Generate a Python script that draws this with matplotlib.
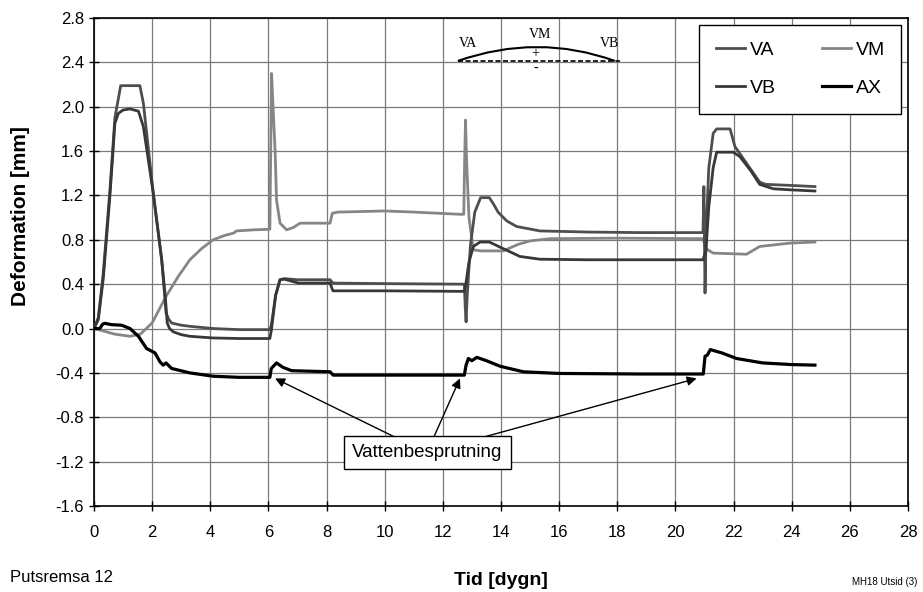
import matplotlib
matplotlib.use("Agg")
import matplotlib.pyplot as plt
from matplotlib.path import Path
from matplotlib.patches import PathPatch

plt.rcParams['font.family'] = ['Liberation Sans', 'DejaVu Sans']
plt.rcParams['axes.unicode_minus'] = False

VA_COLOR = '#4e4e4e'
VM_COLOR = '#868686'
VB_COLOR = '#383838'
AX_COLOR = '#000000'
GRID_COLOR = '#7a7a7a'

# time [dygn] / deformation [mm]
va_t = [0, 0.15, 0.32, 0.55, 0.72, 0.92, 1.58, 1.70, 2.04, 2.33, 2.48, 2.58, 2.67, 3.0, 3.3, 4.1,
        5.0, 6.05, 6.1, 6.25, 6.4, 6.55, 7.0, 8.12, 8.22, 10.0, 12.74, 12.77, 12.80, 12.84, 12.95,
        13.1, 13.3, 13.6, 13.75, 13.9, 14.2, 14.54, 15.34, 17.0, 18.78, 20.95, 20.98, 21.02, 21.06,
        21.15, 21.3, 21.42, 21.88, 22.05, 22.5, 22.9, 23.1, 24.0, 24.8]
va_v = [0, 0.10, 0.50, 1.25, 1.90, 2.19, 2.19, 2.03, 1.22, 0.62, 0.14, 0.08, 0.05, 0.03, 0.02, 0.0,
        -0.01, -0.01, 0.03, 0.30, 0.44, 0.45, 0.44, 0.44, 0.41, 0.405, 0.40, 0.20, 0.06, 0.30, 0.75,
        1.05, 1.18, 1.18, 1.12, 1.05, 0.97, 0.92, 0.88, 0.87, 0.865, 0.865, 1.28, 0.32, 0.90,
        1.45, 1.76, 1.80, 1.80, 1.64, 1.47, 1.32, 1.30, 1.29, 1.28]

vm_t = [0, 0.3, 0.7, 1.24, 1.6, 2.0, 2.48, 2.9, 3.3, 3.7, 4.1, 4.5, 4.8, 4.9, 5.5, 6.05, 6.08, 6.11,
        6.16, 6.23, 6.28, 6.40, 6.63, 6.85, 7.09, 8.12, 8.2, 8.4, 10.0, 11.0, 12.6, 12.72, 12.75,
        12.78, 12.82, 12.9, 13.05, 13.3, 14.08, 14.6, 15.0, 15.7, 18.0, 20.95, 21.05, 21.3, 22.45,
        22.9, 23.94, 24.8]
vm_v = [0, -0.02, -0.05, -0.07, -0.05, 0.05, 0.29, 0.47, 0.62, 0.72, 0.80, 0.84, 0.86, 0.88, 0.89,
        0.895, 1.60, 2.30, 2.00, 1.61, 1.16, 0.95, 0.89, 0.91, 0.95, 0.95, 1.04, 1.05, 1.06, 1.05,
        1.03, 1.03, 1.50, 1.88, 1.50, 1.00, 0.71, 0.70, 0.70, 0.76, 0.79, 0.81, 0.815, 0.81, 0.72,
        0.68, 0.67, 0.74, 0.77, 0.78]

vb_t = [0, 0.15, 0.32, 0.55, 0.72, 0.84, 1.0, 1.24, 1.53, 1.70, 2.04, 2.33, 2.45, 2.52, 2.6, 2.73,
        3.0, 3.3, 4.1, 5.0, 6.05, 6.1, 6.25, 6.4, 6.55, 7.03, 8.12, 8.22, 10.0, 12.74, 12.78, 12.9,
        13.05, 13.28, 13.6, 14.08, 14.65, 15.34, 17.0, 20.95, 21.05, 21.15, 21.3, 21.42, 21.99,
        22.22, 22.6, 22.9, 23.37, 24.0, 24.8]
vb_v = [0, 0.08, 0.45, 1.20, 1.85, 1.94, 1.97, 1.98, 1.96, 1.82, 1.22, 0.62, 0.30, 0.05, 0.0, -0.03,
        -0.055, -0.07, -0.085, -0.09, -0.09, -0.02, 0.30, 0.44, 0.445, 0.41, 0.41, 0.34, 0.34, 0.335,
        0.38, 0.60, 0.74, 0.78, 0.78, 0.72, 0.65, 0.625, 0.62, 0.62, 0.70, 1.10, 1.45, 1.59, 1.59,
        1.55, 1.42, 1.30, 1.26, 1.25, 1.24]

ax_t = [0, 0.2, 0.3, 0.38, 0.6, 0.95, 1.24, 1.53, 1.81, 2.1, 2.27, 2.38, 2.48, 2.67, 3.3, 4.1, 5.0,
        6.05, 6.1, 6.28, 6.5, 6.8, 8.12, 8.23, 12.74, 12.8, 12.88, 13.0, 13.17, 13.5, 13.97, 14.77,
        16.0, 18.78, 20.96, 21.02, 21.1, 21.2, 21.6, 22.1, 23.0, 24.0, 24.8]
ax_v = [0, 0.0, 0.04, 0.047, 0.035, 0.03, 0.0, -0.07, -0.18, -0.22, -0.30, -0.33, -0.31, -0.36,
        -0.40, -0.43, -0.44, -0.44, -0.36, -0.31, -0.35, -0.38, -0.39, -0.42, -0.42, -0.33, -0.27,
        -0.29, -0.26, -0.29, -0.34, -0.39, -0.405, -0.41, -0.41, -0.25, -0.24, -0.19, -0.22, -0.27,
        -0.31, -0.325, -0.33]

# water spraying events pointed at by the annotation
spray_t = [6.23, 12.59, 20.73]
spray_v = [-0.45, -0.45, -0.45]

x_ticks = list(range(0, 29, 2))
y_ticks = [-1.6, -1.2, -0.8, -0.4, 0.0, 0.4, 0.8, 1.2, 1.6, 2.0, 2.4, 2.8]

fig = plt.figure(figsize=(9.23, 5.92), dpi=100)
ax = fig.add_axes([0.1018, 0.1453, 0.8819, 0.8243])

l_va, = ax.plot(va_t, va_v, color=VA_COLOR, lw=2.0, label='VA', zorder=4)
l_vm, = ax.plot(vm_t, vm_v, color=VM_COLOR, lw=2.0, label='VM', zorder=3)
l_vb, = ax.plot(vb_t, vb_v, color=VB_COLOR, lw=2.0, label='VB', zorder=4)
l_ax, = ax.plot(ax_t, ax_v, color=AX_COLOR, lw=2.3, label='AX', zorder=5)

ax.set_xlim(0, 28)
ax.set_ylim(-1.6, 2.8)
ax.set_xticks(x_ticks)
ax.set_yticks(y_ticks)
ax.set_yticklabels([f"{v:.1f}" for v in y_ticks])
ax.tick_params(axis='both', labelsize=12, direction='inout', length=7, width=1, color='black')
ax.tick_params(axis='x', pad=10)
ax.grid(True, color=GRID_COLOR, lw=0.9)
ax.set_axisbelow(True)
for spine in ax.spines.values():
    spine.set_linewidth(1.2)
    spine.set_color('black')

ax.set_xlabel('Tid [dygn]', fontsize=14, fontweight='bold', labelpad=23)
fig.text(0.022, 0.635, 'Deformation [mm]', rotation=90, fontsize=15, fontweight='bold',
         ha='center', va='center')
fig.text(0.011, 0.024, 'Putsremsa 12', fontsize=12, ha='left', va='center')
fig.text(0.994, 0.017, 'MH18 Utsid (3)', fontsize=7, ha='right', va='center')

# column-major fill: rows read VA VM / VB AX
leg = ax.legend([l_va, l_vb, l_vm, l_ax], ['VA', 'VB', 'VM', 'AX'], ncol=2,
                loc='upper right', bbox_to_anchor=(0.992, 0.986), borderaxespad=0,
                fontsize=14, frameon=True, fancybox=False, edgecolor='black',
                handlelength=1.5, handletextpad=0.25, columnspacing=2.35,
                labelspacing=1.05, borderpad=0.85)
leg.get_frame().set_linewidth(1.0)
leg.get_frame().set_alpha(1)

for tx, ty in zip(spray_t, spray_v):
    ax.annotate('', xy=(tx, ty), xytext=(11.45, -1.12), zorder=6,
                arrowprops=dict(arrowstyle='-|>', color='black', lw=1.0,
                                mutation_scale=14, shrinkA=0, shrinkB=0))
ax.text(11.47, -1.118, 'Vattenbesprutning', fontsize=13.5, ha='center', va='center', zorder=7,
        bbox=dict(boxstyle='square,pad=0.45', fc='white', ec='black', lw=1.0))

# small beam sketch in the upper middle
tr = ax.transAxes
ax.plot([0.447, 0.646], [0.912, 0.912], transform=tr, color='black', lw=1.2, ls=(0, (3, 1.5)),
        zorder=6)
arc = Path([(0.447, 0.912), (0.545, 0.969), (0.640, 0.912)],
           [Path.MOVETO, Path.CURVE3, Path.CURVE3])
ax.add_patch(PathPatch(arc, transform=tr, fc='none', ec='black', lw=1.5, zorder=6))
serif = ['Liberation Serif', 'DejaVu Serif']
ax.text(0.459, 0.947, 'VA', transform=tr, family=serif, fontsize=10, ha='center', va='center')
ax.text(0.548, 0.967, 'VM', transform=tr, family=serif, fontsize=10, ha='center', va='center')
ax.text(0.633, 0.947, 'VB', transform=tr, family=serif, fontsize=10, ha='center', va='center')
ax.text(0.542, 0.927, '+', transform=tr, family=serif, fontsize=10, ha='center', va='center')
ax.text(0.543, 0.897, '-', transform=tr, family=serif, fontsize=10, ha='center', va='center')

fig.savefig('out.png', dpi=100, facecolor='white')
